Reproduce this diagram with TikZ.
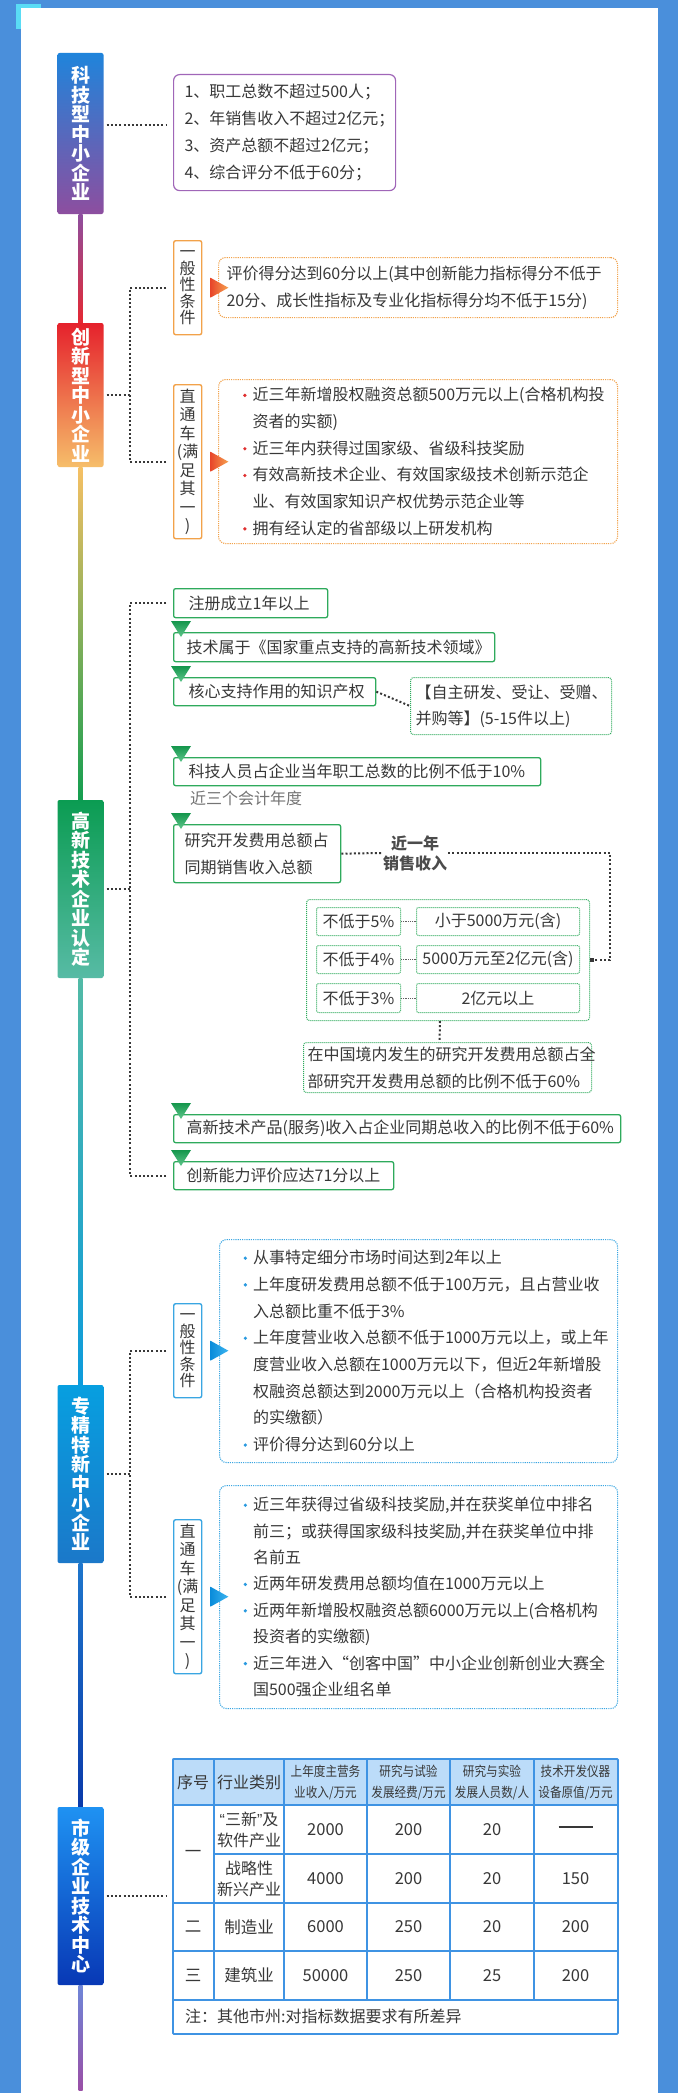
\documentclass[tikz,border=0pt]{standalone}
\usepackage{fontspec}
\setmainfont{Noto Sans CJK SC}
\newfontfamily\latq{Liberation Sans}
\newfontfamily\cond{Noto Sans CJK SC}[FakeStretch=0.86]
\usetikzlibrary{arrows.meta}
\definecolor{bgblue}{HTML}{4A8FDB}
\definecolor{cyanc}{HTML}{5ADCF5}
\definecolor{txt}{HTML}{383838}
\definecolor{purp}{HTML}{A066B8}
\definecolor{orng}{HTML}{F2A24A}
\definecolor{grn}{HTML}{2EAA5C}
\definecolor{blu}{HTML}{3AA6E2}
\definecolor{tblu}{HTML}{3F93E3}
\definecolor{thead}{HTML}{BCDCF9}
\definecolor{redb}{HTML}{E03030}
\definecolor{blub}{HTML}{2A9AE0}
% line gradient colours
\definecolor{lA1}{HTML}{8D4E9F}\definecolor{lA2}{HTML}{E52832}
\definecolor{lB1}{HTML}{F6C064}\definecolor{lB2}{HTML}{B9B946}\definecolor{lB3}{HTML}{149E50}
\definecolor{lC1}{HTML}{52BAA6}\definecolor{lC2}{HTML}{0C9BDC}
\definecolor{lD1}{HTML}{1E76CC}\definecolor{lD2}{HTML}{0A3AAA}
\definecolor{lE1}{HTML}{6E86D8}\definecolor{lE2}{HTML}{9A4FA6}
% title gradient colours
\definecolor{tA1}{HTML}{1F84DB}\definecolor{tA2}{HTML}{8D4E9F}
\definecolor{tB1}{HTML}{E5212C}\definecolor{tB2}{HTML}{F6BE6A}
\definecolor{tC1}{HTML}{0B9C52}\definecolor{tC2}{HTML}{57BBA5}
\definecolor{tD1}{HTML}{079FE0}\definecolor{tD2}{HTML}{1B78C9}
\definecolor{tE1}{HTML}{1F92F2}\definecolor{tE2}{HTML}{0838B5}
% triangle colours
\definecolor{oT1}{HTML}{E8462A}\definecolor{oT2}{HTML}{F6A250}
\definecolor{gT1}{HTML}{14964C}\definecolor{gT2}{HTML}{60C68C}
\definecolor{bT1}{HTML}{0A8CDA}\definecolor{bT2}{HTML}{3CB4F0}
\newcommand{\bul}[1]{\makebox[9.5pt][l]{\tikz[baseline={(0pt,-5.5pt)}]\fill[#1] (1.8pt,0pt) circle (1.8pt);}}
\newcommand{\ind}{\hspace*{9.5pt}}
\tikzset{
  conn/.style={draw=txt, line width=2pt, dash pattern=on 2pt off 2.2pt},
  thinconn/.style={draw=txt!80, line width=0.8pt, dash pattern=on 0.8pt off 1pt},
  titlebox/.style={rectangle, rounded corners=2pt, minimum width=46pt, inner sep=0pt, text=white, align=center, font=\fontsize{19}{19.5}\selectfont\bfseries},
  body/.style={font=\fontsize{16}{26.7}\selectfont, text=txt, align=left},
  pbox/.style={body, draw=purp, line width=1.2pt, rounded corners=6pt, anchor=north west, inner ysep=0pt},
  odot/.style={body, draw=orng, line width=1.1pt, dash pattern=on 1.1pt off 1.1pt, rounded corners=7pt, anchor=north west, inner ysep=0pt},
  bdot/.style={body, draw=blu, line width=1.1pt, dash pattern=on 1.1pt off 1.1pt, rounded corners=7pt, anchor=north west, inner ysep=0pt},
  gbox/.style={body, draw=grn, line width=1.3pt, rounded corners=2pt, anchor=north west, inner ysep=0pt},
  gdot/.style={body, draw=grn, line width=1pt, dash pattern=on 1pt off 1pt, rounded corners=3pt, anchor=north west, inner ysep=0pt},
  gcell/.style={gdot, align=center, inner sep=0pt, rounded corners=2pt},
  labbox/.style={draw, line width=1.4pt, rounded corners=2pt, anchor=north west, minimum width=28pt, inner sep=0pt, align=center, text=txt},
  lab5/.style={labbox, font=\fontsize{16}{16.5}\selectfont, minimum height=94pt},
  lab8/.style={labbox, font=\fontsize{16}{18.5}\selectfont, minimum height=154pt},
  tcell/.style={font=\fontsize{16.5}{21}\selectfont, text=txt, align=center, inner sep=0pt},
  thd/.style={font=\cond\fontsize{13.5}{21}\selectfont, text=txt, align=center, inner sep=0pt},
}
\begin{document}
\begin{tikzpicture}[x=1pt,y=-1pt]
\useasboundingbox (0,0) rectangle (678,2093);
\fill[bgblue] (0,0) rectangle (678,2093);
\fill[cyanc] (16,4) rectangle (41,29);
\fill[white] (20.5,8) rectangle (657.5,2093);

% main vertical line segments
\shade[top color=lA1, bottom color=lA2] (78.5,214) rectangle (82.5,323);
\shade[top color=lB1, middle color=lB2, bottom color=lB3] (78.5,467) rectangle (82.5,800);
\shade[top color=lC1, bottom color=lC2] (78.5,978) rectangle (82.5,1385);
\shade[top color=lD1, bottom color=lD2] (78.5,1563) rectangle (82.5,1807);
\shade[top color=lE1, bottom color=lE2] (78.5,1985) rectangle (82.5,2090);

% title boxes
\node[titlebox, minimum height=161pt, top color=tA1, bottom color=tA2] (t1) at (80.5,133.5) {科\\技\\型\\中\\小\\企\\业};
\node[titlebox, minimum height=144pt, top color=tB1, bottom color=tB2] (t2) at (80.5,395) {创\\新\\型\\中\\小\\企\\业};
\node[titlebox, minimum height=178pt, top color=tC1, bottom color=tC2] (t3) at (80.5,889) {高\\新\\技\\术\\企\\业\\认\\定};
\node[titlebox, minimum height=178pt, top color=tD1, bottom color=tD2] (t4) at (80.5,1474) {专\\精\\特\\新\\中\\小\\企\\业};
\node[titlebox, minimum height=178pt, top color=tE1, bottom color=tE2] (t5) at (80.5,1896) {市\\级\\企\\业\\技\\术\\中\\心};

% ---------- section 1
\node[pbox, minimum width=222pt, minimum height=116pt, text width=200pt, inner xsep=11pt] (p1) at (173,74)
 {1、职工总数不超过500人；\\2、年销售收入不超过2亿元；\\3、资产总额不超过2亿元；\\4、综合评分不低于60分；};
\draw[conn, shorten <=3pt, shorten >=7pt] ([yshift=8.5pt]t1.east) -- ([yshift=8.5pt]t1.east -| p1.west);

% ---------- section 2
\node[lab5, draw=orng] (lab21) at (173,240) {一\\般\\性\\条\\件};
\node[lab8, draw=orng] (lab22) at (173,384) {直\\通\\车\\(满\\足\\其\\一\\)};
\node[odot, minimum width=399pt, minimum height=60pt, text width=383pt, inner xsep=8pt] (o1) at (218,257)
 {评价得分达到60分以上(其中创新能力指标得分不低于\\20分、成长性指标及专业化指标得分均不低于15分)};
\node[odot, minimum width=399pt, minimum height=164pt, text width=350pt, inner xsep=24.5pt] (o2) at (218,379)
 {\bul{redb}近三年新增股权融资总额500万元以上(合格机构投\\\ind 资者的实额)\\\bul{redb}近三年内获得过国家级、省级科技奖励\\\bul{redb}有效高新技术企业、有效国家级技术创新示范企\\\ind 业、有效国家知识产权优势示范企业等\\\bul{redb}拥有经认定的省部级以上研发机构};
\foreach \L in {lab21,lab22}{
  \shade[left color=oT1, right color=oT2]
    ([shift={(8pt,10pt)}]\L.east) -- ([shift={(26pt,0pt)}]\L.east) -- ([shift={(8pt,-10pt)}]\L.east) -- cycle;
}
\coordinate (j2) at (130,395);
\draw[conn, shorten <=3pt] (t2.east) -- (j2);
\draw[conn, shorten <=7pt] (lab21.west) -| (j2);
\draw[conn, shorten <=7pt] (lab22.west) -| (j2);

% ---------- section 3
\node[gbox, minimum width=154pt, minimum height=29pt, text width=124pt, inner xsep=15pt] (g1) at (173,588) {注册成立1年以上};
\node[gbox, minimum width=321pt, minimum height=29pt, text width=295pt, inner xsep=13pt] (g2) at (173,632) {技术属于《国家重点支持的高新技术领域》};
\node[gbox, minimum width=202pt, minimum height=28pt, text width=172pt, inner xsep=15pt] (g3) at (173,677) {核心支持作用的知识产权};
\node[gdot, minimum width=201pt, minimum height=57pt, text width=191pt, inner xsep=5pt, font=\fontsize{16}{26}\selectfont] (s3) at (410,677) {【自主研发、受让、受赠、\\并购等】(5-15件以上)};
\node[gbox, minimum width=367pt, minimum height=28pt, text width=337pt, inner xsep=15pt] (g4) at (173,757) {科技人员占企业当年职工总数的比例不低于10\%};
\node[font=\fontsize{16}{20}\selectfont, text=txt!70, anchor=west, inner sep=0pt] (n4) at (190,798) {近三个会计年度};
\node[gbox, minimum width=167pt, minimum height=58pt, text width=145pt, inner xsep=11pt, font=\fontsize{16}{27}\selectfont] (g5) at (173,824) {研究开发费用总额占\\同期销售收入总额};
\node[font=\fontsize{16}{20}\selectfont\bfseries, text=txt!90, align=center, inner sep=1pt] (ls) at (415,853) {近一年\\销售收入};
\node[gdot, minimum width=283pt, minimum height=121pt] (ob) at (306,899) {};
\node[gcell, minimum width=84pt, minimum height=28pt] (c1l) at (316,907) {不低于5\%};
\node[gcell, minimum width=163pt, minimum height=28pt] (c1r) at (416,907) {小于5000万元(含)};
\node[gcell, minimum width=84pt, minimum height=28pt] (c2l) at (316,945) {不低于4\%};
\node[gcell, minimum width=163pt, minimum height=28pt] (c2r) at (416,945) {5000万元至2亿元(含)};
\node[gcell, minimum width=84pt, minimum height=29pt] (c3l) at (316,983) {不低于3\%};
\node[gcell, minimum width=163pt, minimum height=29pt] (c3r) at (416,983) {2亿元以上};
\foreach \r in {1,2,3}{\draw[thinconn] (c\r l.east) -- (c\r r.west);}
\node[gdot, minimum width=288pt, minimum height=50pt, text width=280pt, inner xsep=4pt, font=\fontsize{16}{27}\selectfont] (rd) at (303,1042) {在中国境内发生的研究开发费用总额占全\\部研究开发费用总额的比例不低于60\%};
\node[gbox, minimum width=447pt, minimum height=28pt, text width=421pt, inner xsep=13pt] (g6) at (173,1114) {高新技术产品(服务)收入占企业同期总收入的比例不低于60\%};
\node[gbox, minimum width=220pt, minimum height=28pt, text width=194pt, inner xsep=13pt] (g7) at (173,1161) {创新能力评价应达71分以上};
\foreach \B in {g2,g3,g4,g5,g6,g7}{
  \shade[top color=gT1, bottom color=gT2]
    ([shift={(-2pt,11pt)}]\B.north west) -- ([shift={(18pt,11pt)}]\B.north west) -- ([shift={(8pt,-5pt)}]\B.north west) -- cycle;
}
\coordinate (j3) at (130,889);
\coordinate (k3) at (610,853);
\draw[conn, shorten <=3pt] (t3.east) -- (j3);
\draw[conn, shorten <=7pt] (g1.west) -| (j3);
\draw[conn, shorten <=7pt] (g7.west) -| (j3);
\draw[conn] (g3.east) -- (s3.west);
\draw[conn] (g5.east) -- (ls.west);
\draw[conn, -{Square[length=4pt,width=4pt]}] (ls.east) -- (k3) |- (ob.east);
\draw[conn] ([xshift=-8pt]ob.south) -- ([xshift=-8pt]rd.north);

% ---------- section 4
\node[lab5, draw=blu] (lab41) at (173,1303) {一\\般\\性\\条\\件};
\node[lab8, draw=blu] (lab42) at (173,1519) {直\\通\\车\\(满\\足\\其\\一\\)};
\node[bdot, minimum width=398pt, minimum height=223pt, text width=350pt, inner xsep=23.5pt] (z1) at (219,1239)
 {\bul{blub}从事特定细分市场时间达到2年以上\\\bul{blub}上年度研发费用总额不低于100万元，且占营业收\\\ind 入总额比重不低于3\%\\\bul{blub}上年度营业收入总额不低于1000万元以上，或上年\\\ind 度营业收入总额在1000万元以下，但近2年新增股\\\ind 权融资总额达到2000万元以上（合格机构投资者\\\ind 的实缴额）\\\bul{blub}评价得分达到60分以上};
\node[bdot, minimum width=398pt, minimum height=223pt, text width=350pt, inner xsep=23.5pt, font=\fontsize{16}{26.4}\selectfont] (z2) at (219,1485)
 {\bul{blub}近三年获得过省级科技奖励,并在获奖单位中排名\\\ind 前三；或获得国家级科技奖励,并在获奖单位中排\\\ind 名前五\\\bul{blub}近两年研发费用总额均值在1000万元以上\\\bul{blub}近两年新增股权融资总额6000万元以上(合格机构\\\ind 投资者的实缴额)\\\bul{blub}近三年进入“创客中国”中小企业创新创业大赛全\\\ind 国500强企业组名单};
\foreach \L in {lab41,lab42}{
  \shade[left color=bT1, right color=bT2]
    ([shift={(8pt,10pt)}]\L.east) -- ([shift={(26pt,0pt)}]\L.east) -- ([shift={(8pt,-10pt)}]\L.east) -- cycle;
}
\coordinate (j4) at (130,1474);
\draw[conn, shorten <=3pt] (t4.east) -- (j4);
\draw[conn, shorten <=7pt] (lab41.west) -| (j4);
\draw[conn, shorten <=7pt] (lab42.west) -| (j4);

% ---------- section 5: table
\fill[thead] (172,1758) rectangle (617,1805);
\foreach \yy in {1805,1903,1951,2000}{\draw[tblu, line width=1.5pt] (172,\yy) -- (617,\yy);}
\draw[tblu, line width=1.5pt] (214,1854) -- (617,1854);
\foreach \xx in {214,284,367,450,534}{\draw[tblu, line width=1.5pt] (\xx,1758) -- (\xx,2000);}
\node[draw=tblu, line width=1.8pt, anchor=north west, minimum width=445pt, minimum height=275pt, inner sep=0pt, rounded corners=1pt] (tbl) at (172,1758) {};
\node[tcell, font=\fontsize{16}{20}\selectfont] (h1) at (193,1782) {序号};
\node[tcell, font=\fontsize{16}{20}\selectfont] (h2) at (249,1782) {行业类别};
\node[thd] (h3) at (325.5,1782.5) {上年度主营务\\业收入/万元};
\node[thd] (h4) at (408.5,1782.5) {研究与试验\\发展经费/万元};
\node[thd] (h5) at (492,1782.5) {研究与实验\\发展人员数/人};
\node[thd] (h6) at (575.5,1782.5) {技术开发仪器\\设备原值/万元};
\node[tcell] (r1a) at (193,1854) {一};
\node[tcell, font=\fontsize{16}{21}\selectfont] (r1b) at (249,1829.5) {{\latq “}三新{\latq ”}及\\软件产业};
\node[tcell] (r1c) at (325.5,1829.5) {2000};
\node[tcell] (r1d) at (408.5,1829.5) {200};
\node[tcell] (r1e) at (492,1829.5) {20};
\node[tcell] (r1f) at (575.5,1829.5) {\rule[5pt]{34pt}{1.3pt}};
\node[tcell, font=\fontsize{16}{21}\selectfont] (r2b) at (249,1878.5) {战略性\\新兴产业};
\node[tcell] (r2c) at (325.5,1878.5) {4000};
\node[tcell] (r2d) at (408.5,1878.5) {200};
\node[tcell] (r2e) at (492,1878.5) {20};
\node[tcell] (r2f) at (575.5,1878.5) {150};
\node[tcell] (r3a) at (193,1927) {二};
\node[tcell] (r3b) at (249,1927) {制造业};
\node[tcell] (r3c) at (325.5,1927) {6000};
\node[tcell] (r3d) at (408.5,1927) {250};
\node[tcell] (r3e) at (492,1927) {20};
\node[tcell] (r3f) at (575.5,1927) {200};
\node[tcell] (r4a) at (193,1975.5) {三};
\node[tcell] (r4b) at (249,1975.5) {建筑业};
\node[tcell] (r4c) at (325.5,1975.5) {50000};
\node[tcell] (r4d) at (408.5,1975.5) {250};
\node[tcell] (r4e) at (492,1975.5) {25};
\node[tcell] (r4f) at (575.5,1975.5) {200};
\node[tcell, font=\fontsize{16}{20}\selectfont, anchor=west] (note) at (185,2016.5) {注：其他市州:对指标数据要求有所差异};
\draw[conn, shorten <=3pt, shorten >=6pt] (t5.east) -- (t5.east -| tbl.west);
\end{tikzpicture}
\end{document}
